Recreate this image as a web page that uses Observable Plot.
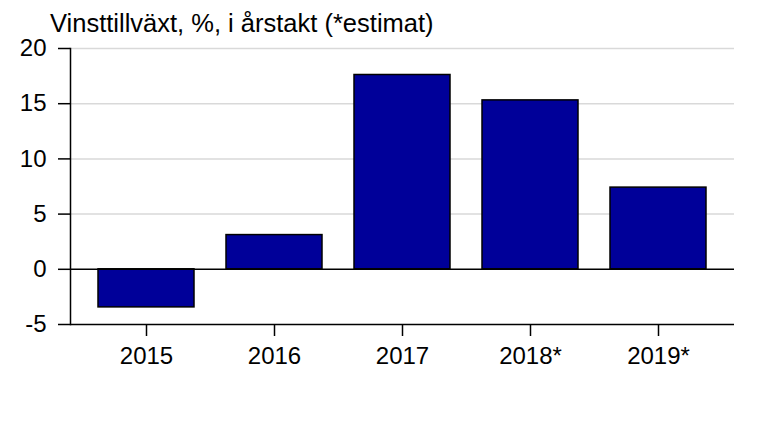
<!DOCTYPE html>
<html><head><meta charset="utf-8">
<script src="https://cdn.jsdelivr.net/npm/d3@7"></script>
<script src="https://cdn.jsdelivr.net/npm/@observablehq/plot@0.6"></script>
<style>
body{margin:0;background:#fff;font-family:"Liberation Sans",Arial,sans-serif;}
#wrap{position:relative;width:774px;height:438px;}
#title{position:absolute;left:50px;top:9px;font-size:25.5px;line-height:28px;color:#000;white-space:nowrap;}
</style></head><body>
<div id="wrap"><div id="title">Vinsttillväxt, %, i årstakt (*estimat)</div><div id="chart"></div></div>
<script>
const years = ["2015","2016","2017","2018*","2019*"];
const growth = [-3.45, 3.1, 17.6, 15.3, 7.4];
const yTicks = [-5, 0, 5, 10, 15, 20];
const gridTicks = [5, 10, 15, 20];
const data = years.map((y,i)=>({year:y, value:growth[i]}));
const chart = Plot.plot({
  width: 774, height: 438,
  marginLeft: 70, marginRight: 40, marginTop: 48, marginBottom: 114,
  style: {fontFamily: '"Liberation Sans", Arial, sans-serif', fontSize: "24px", color: "#000", background: "#fff"},
  x: {domain: years, paddingInner: 0.25, paddingOuter: 0.2, label: null},
  y: {domain: [-5, 20], label: null},
  marks: [
    Plot.ruleY(gridTicks, {stroke: "#d9d9d9", strokeWidth: 1.5}),
    Plot.barY(data, {x: "year", y: "value", fill: "#000099", stroke: "#000", strokeWidth: 1.5}),
    Plot.ruleY([0], {stroke: "#000", strokeWidth: 1.5}),
    Plot.ruleY([-5], {stroke: "#000", strokeWidth: 1.5}),
    Plot.frame({anchor: "left", stroke: "#000", strokeWidth: 1.5}),
    Plot.axisY({ticks: yTicks, tickSize: 12, tickPadding: 12, tickFormat: d => String(d), stroke: "#000", strokeWidth: 1.5, fontSize: 24}),
    Plot.axisX({tickSize: 12, tickPadding: 10, stroke: "#000", strokeWidth: 1.5, fontSize: 24})
  ]
});
document.getElementById("chart").appendChild(chart);
</script>
</body></html>
